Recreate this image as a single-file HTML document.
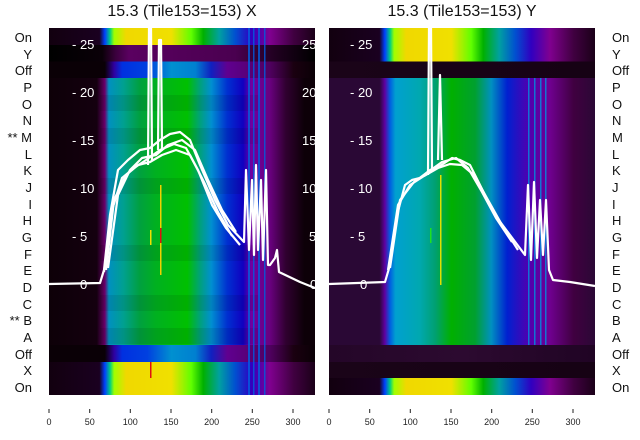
<!DOCTYPE html>
<html><head><meta charset="utf-8"><style>
html,body{margin:0;padding:0;background:#fff;}
svg{display:block;font-family:"Liberation Sans","DejaVu Sans",sans-serif;}
</style></head><body>
<svg width="640" height="440" viewBox="0 0 640 440" xmlns="http://www.w3.org/2000/svg">
<defs>
<linearGradient id="gL" x1="0" x2="1">
<stop offset="0" stop-color="#0d0008"/><stop offset=".18" stop-color="#14000f"/><stop offset=".21" stop-color="#6a006a"/><stop offset=".225" stop-color="#0090c0"/><stop offset=".28" stop-color="#00a090"/><stop offset=".34" stop-color="#00a040"/><stop offset=".4" stop-color="#00b020"/><stop offset=".52" stop-color="#00c000"/><stop offset=".57" stop-color="#00a080"/><stop offset=".61" stop-color="#0090d0"/><stop offset=".67" stop-color="#0030d0"/><stop offset=".73" stop-color="#1000c0"/><stop offset=".76" stop-color="#7000a0"/><stop offset=".83" stop-color="#6a0080"/><stop offset=".89" stop-color="#300030"/><stop offset=".96" stop-color="#0d0008"/><stop offset="1" stop-color="#0d0008"/>
</linearGradient>
<linearGradient id="gR" x1="0" x2="1">
<stop offset="0" stop-color="#2a0835"/><stop offset=".19" stop-color="#2a0835"/><stop offset=".21" stop-color="#6000a0"/><stop offset=".23" stop-color="#0060e0"/><stop offset=".25" stop-color="#00a0d0"/><stop offset=".34" stop-color="#00a8b0"/><stop offset=".4" stop-color="#00a070"/><stop offset=".46" stop-color="#00b000"/><stop offset=".55" stop-color="#00a030"/><stop offset=".61" stop-color="#0090c0"/><stop offset=".67" stop-color="#0020d0"/><stop offset=".75" stop-color="#5000b0"/><stop offset=".83" stop-color="#700090"/><stop offset=".92" stop-color="#400040"/><stop offset="1" stop-color="#2a0835"/>
</linearGradient>
<linearGradient id="gY" x1="0" x2="1">
<stop offset="0" stop-color="#12000f"/><stop offset=".19" stop-color="#1a0020"/><stop offset=".21" stop-color="#0040ff"/><stop offset=".23" stop-color="#00d080"/><stop offset=".245" stop-color="#a0ff00"/><stop offset=".29" stop-color="#f0d800"/><stop offset=".46" stop-color="#f0e000"/><stop offset=".535" stop-color="#60ff00"/><stop offset=".58" stop-color="#00b000"/><stop offset=".64" stop-color="#00a0a0"/><stop offset=".7" stop-color="#0050d0"/><stop offset=".76" stop-color="#3000c0"/><stop offset=".83" stop-color="#800090"/><stop offset=".92" stop-color="#400040"/><stop offset="1" stop-color="#1a0018"/>
</linearGradient>
<linearGradient id="gOff" x1="0" x2="1">
<stop offset="0" stop-color="#0a0006"/><stop offset=".21" stop-color="#0a0006"/><stop offset=".245" stop-color="#3000a0"/><stop offset=".275" stop-color="#0030e0"/><stop offset=".37" stop-color="#0040e0"/><stop offset=".46" stop-color="#0090d0"/><stop offset=".55" stop-color="#0080d0"/><stop offset=".61" stop-color="#1020c0"/><stop offset=".67" stop-color="#600090"/><stop offset=".83" stop-color="#500060"/><stop offset=".92" stop-color="#1a0010"/><stop offset="1" stop-color="#0a0006"/>
</linearGradient>
<linearGradient id="gDk" x1="0" x2="1">
<stop offset="0" stop-color="#000000"/><stop offset=".2" stop-color="#0a0008"/><stop offset=".25" stop-color="#3a003c"/><stop offset=".3" stop-color="#5a0060"/><stop offset=".7" stop-color="#4a0050"/><stop offset=".85" stop-color="#200020"/><stop offset="1" stop-color="#000000"/>
</linearGradient>
<linearGradient id="gRd" x1="0" x2="1">
<stop offset="0" stop-color="#240628"/><stop offset=".5" stop-color="#2c0a30"/><stop offset="1" stop-color="#200424"/>
</linearGradient>
<linearGradient id="gRd2" x1="0" x2="1">
<stop offset="0" stop-color="#1a0418"/><stop offset="1" stop-color="#160214"/>
</linearGradient>
</defs>

<text x="182" y="16" font-size="16" text-anchor="middle" fill="#111">15.3 (Tile153=153) X</text>
<text x="462" y="16" font-size="16" text-anchor="middle" fill="#111">15.3 (Tile153=153) Y</text>

<!-- left panel -->
<g>
<rect x="49" y="28" width="266" height="17" fill="url(#gY)"/>
<rect x="49" y="45" width="266" height="16.5" fill="url(#gDk)"/>
<rect x="49" y="61.5" width="266" height="16.5" fill="url(#gOff)"/>
<rect x="49" y="78" width="266" height="267" fill="url(#gL)"/>
<g fill="#000" opacity=".08">
<rect x="100" y="95" width="160" height="16"/><rect x="100" y="128" width="160" height="16"/><rect x="100" y="178" width="160" height="16"/><rect x="100" y="245" width="160" height="16"/><rect x="100" y="295" width="160" height="16"/><rect x="100" y="328" width="160" height="16"/>
</g>
<rect x="49" y="345" width="266" height="17" fill="url(#gOff)"/>
<rect x="49" y="362" width="266" height="33" fill="url(#gY)"/>
<g fill="#0060e0" opacity=".8">
<rect x="248" y="28" width="2" height="367"/><rect x="253" y="28" width="1.5" height="367"/><rect x="258" y="28" width="2" height="367"/><rect x="264" y="28" width="1.5" height="367"/>
</g>
<rect x="150" y="230" width="1.5" height="15" fill="#f0e000"/>
<rect x="160" y="185" width="1.5" height="90" fill="#f0d000"/>
<rect x="160" y="228" width="1.5" height="15" fill="#e01010"/>
<rect x="150" y="362" width="1.5" height="16" fill="#e01010"/>
</g>

<!-- right panel -->
<g>
<rect x="329" y="28" width="266" height="33.5" fill="url(#gY)"/>
<rect x="329" y="61.5" width="266" height="16.5" fill="url(#gRd2)"/>
<rect x="329" y="78" width="266" height="267" fill="url(#gR)"/>
<rect x="329" y="345" width="266" height="17" fill="url(#gRd)"/>
<rect x="329" y="362" width="266" height="16" fill="url(#gRd2)"/>
<rect x="329" y="378" width="266" height="17" fill="url(#gY)"/>
<g fill="#0090e0" opacity=".8">
<rect x="528" y="78" width="1.5" height="267"/><rect x="534" y="78" width="1.5" height="267"/><rect x="540" y="78" width="1.5" height="267"/><rect x="545" y="78" width="1.5" height="267"/>
</g>
<rect x="440" y="175" width="1.5" height="110" fill="#e0e000"/>
<rect x="430" y="228" width="1.5" height="15" fill="#20e020"/>
</g>

<!-- white curves left -->
<g fill="none" stroke="#fff" stroke-width="2.2" stroke-linejoin="round">
<polyline points="49,284 100,283 104,270 110,215 118,170 128,160 140,150 150,148 160,140 170,134 180,132 190,140 200,165 215,200 228,225 244,242 246,170 249,250 252,180 254,255 256,165 258,250 261,180 263,260 266,170 268,265 270,265 275,258 277,250 279,272 300,282 315,288"/>
<polyline points="104,272 112,210 122,178 134,168 146,160 160,150 174,144 186,148 198,170 212,205 226,228 240,245"/>
<polyline points="106,270 114,200 126,175 138,165 150,162 162,155 176,150 190,155 204,182 218,212 232,236"/>
<polyline points="108,268 118,195 130,170 142,158 156,155 168,145 182,140 195,150 208,180 222,210 236,232"/>
<polyline points="148,165 149,28 151,28 152,160"/>
<polyline points="158,150 159,40 161,40 162,150"/>
</g>
<!-- white curves right -->
<g fill="none" stroke="#fff" stroke-width="2.2" stroke-linejoin="round">
<polyline points="329,284 385,282 390,265 397,215 405,185 412,180 420,178 430,170 440,166 452,158 460,160 470,165 480,185 495,215 510,235 525,255 528,185 531,260 534,182 537,258 540,200 543,255 546,200 549,270 553,280 570,282 595,286"/>
<polyline points="388,270 398,205 410,185 424,176 438,168 450,164 462,165 474,175 488,200 502,225 518,250"/>
<polyline points="390,268 400,200 414,182 428,172 442,162 456,158 468,168 482,192 496,218 512,242"/>
<polyline points="428,175 429,28 431,28 432,170"/>
<polyline points="438,160 440,75 442,160"/>
</g>

<g fill="#fff" font-size="13">
<text x="72" y="49">- 25</text><text x="72" y="97">- 20</text><text x="72" y="145">- 15</text><text x="72" y="193">- 10</text><text x="72" y="241">- 5</text><text x="80" y="289">0</text>
<text x="302" y="49">25</text><text x="302" y="97">20</text><text x="302" y="145">15</text><text x="302" y="193">10</text><text x="309" y="241">5</text><text x="310" y="289">0</text>
<text x="350" y="49">- 25</text><text x="350" y="97">- 20</text><text x="350" y="145">- 15</text><text x="350" y="193">- 10</text><text x="350" y="241">- 5</text><text x="360" y="289">0</text>
</g>

<g font-size="13" fill="#111">
<g text-anchor="end">
<text x="32" y="42">On</text><text x="32" y="59">Y</text><text x="32" y="75">Off</text><text x="32" y="92">P</text><text x="32" y="109">O</text><text x="32" y="125">N</text><text x="32" y="142">** M</text><text x="32" y="159">L</text><text x="32" y="175">K</text><text x="32" y="192">J</text><text x="32" y="209">I</text><text x="32" y="225">H</text><text x="32" y="242">G</text><text x="32" y="259">F</text><text x="32" y="275">E</text><text x="32" y="292">D</text><text x="32" y="309">C</text><text x="32" y="325">** B</text><text x="32" y="342">A</text><text x="32" y="359">Off</text><text x="32" y="375">X</text><text x="32" y="392">On</text>
</g>
<g text-anchor="start">
<text x="612" y="42">On</text><text x="612" y="59">Y</text><text x="612" y="75">Off</text><text x="612" y="92">P</text><text x="612" y="109">O</text><text x="612" y="125">N</text><text x="612" y="142">M</text><text x="612" y="159">L</text><text x="612" y="175">K</text><text x="612" y="192">J</text><text x="612" y="209">I</text><text x="612" y="225">H</text><text x="612" y="242">G</text><text x="612" y="259">F</text><text x="612" y="275">E</text><text x="612" y="292">D</text><text x="612" y="309">C</text><text x="612" y="325">B</text><text x="612" y="342">A</text><text x="612" y="359">Off</text><text x="612" y="375">X</text><text x="612" y="392">On</text>
</g>
</g>

<g stroke="#222" stroke-width="1">
<line x1="49" y1="409" x2="49" y2="413"/><line x1="89.7" y1="409" x2="89.7" y2="413"/><line x1="130.3" y1="409" x2="130.3" y2="413"/><line x1="171" y1="409" x2="171" y2="413"/><line x1="211.7" y1="409" x2="211.7" y2="413"/><line x1="252.3" y1="409" x2="252.3" y2="413"/><line x1="293" y1="409" x2="293" y2="413"/>
<line x1="329" y1="409" x2="329" y2="413"/><line x1="369.7" y1="409" x2="369.7" y2="413"/><line x1="410.3" y1="409" x2="410.3" y2="413"/><line x1="451" y1="409" x2="451" y2="413"/><line x1="491.7" y1="409" x2="491.7" y2="413"/><line x1="532.3" y1="409" x2="532.3" y2="413"/><line x1="573" y1="409" x2="573" y2="413"/>
</g>
<g font-size="9" fill="#222" text-anchor="middle">
<text x="49" y="425">0</text><text x="89.7" y="425">50</text><text x="130.3" y="425">100</text><text x="171" y="425">150</text><text x="211.7" y="425">200</text><text x="252.3" y="425">250</text><text x="293" y="425">300</text>
<text x="329" y="425">0</text><text x="369.7" y="425">50</text><text x="410.3" y="425">100</text><text x="451" y="425">150</text><text x="491.7" y="425">200</text><text x="532.3" y="425">250</text><text x="573" y="425">300</text>
</g>
</svg>
</body></html>
